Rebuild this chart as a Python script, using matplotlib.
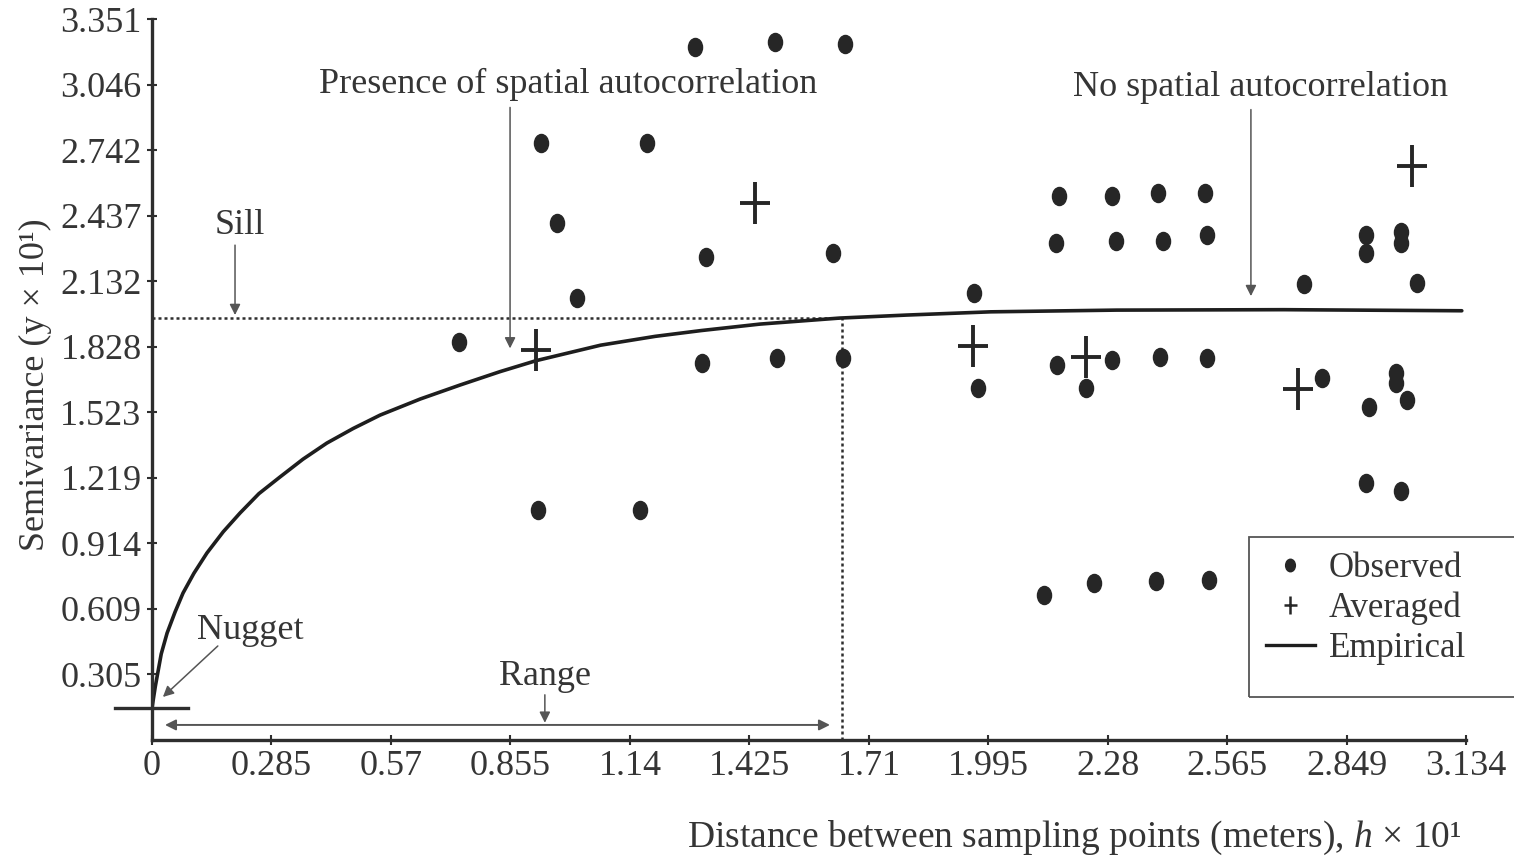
import numpy as np
import matplotlib
matplotlib.use("Agg")
import matplotlib.pyplot as plt
from matplotlib.path import Path
from matplotlib.transforms import Affine2D
from matplotlib.lines import Line2D
from matplotlib.patches import Rectangle

plt.rcParams['font.family'] = ['Liberation Serif', 'DejaVu Serif']
plt.rcParams['mathtext.fontset'] = 'custom'
plt.rcParams['mathtext.it'] = 'Liberation Serif:italic'
plt.rcParams['mathtext.rm'] = 'Liberation Serif'

INK = '#2e2e2e'
TXT = '#353535'
FS = 26

# tick values shown on the axes
x_ticks = [0, 0.285, 0.57, 0.855, 1.14, 1.425, 1.71, 1.995, 2.28, 2.565, 2.849, 3.134]
x_labels = ['0', '0.285', '0.57', '0.855', '1.14', '1.425', '1.71', '1.995', '2.28', '2.565', '2.849', '3.134']
y_ticks = [0.305, 0.609, 0.914, 1.219, 1.523, 1.828, 2.132, 2.437, 2.742, 3.046, 3.351]

# observed semivariance points
obs_x = [0.732, 0.928, 0.966, 1.014, 0.921, 1.180, 1.164, 1.295, 1.486, 1.653,
         1.321, 1.624, 1.312, 1.491, 1.648,
         1.960, 1.970,
         2.163, 2.290, 2.399, 2.511,
         2.156, 2.299, 2.411, 2.516,
         2.158, 2.228, 2.290, 2.404, 2.516,
         2.127, 2.247, 2.394, 2.521,
         2.747, 2.790, 2.895, 2.895, 2.979, 2.979, 3.017,
         2.967, 2.967, 2.902, 2.993, 2.895, 2.979]
obs_y = [1.849, 2.774, 2.402, 2.054, 1.069, 2.774, 1.069, 3.220, 3.243, 3.234,
         2.244, 2.263, 1.752, 1.775, 1.775,
         2.077, 1.636,
         2.528, 2.528, 2.542, 2.542,
         2.309, 2.319, 2.319, 2.347,
         1.743, 1.636, 1.766, 1.780, 1.775,
         0.674, 0.730, 0.739, 0.743,
         2.119, 1.682, 2.347, 2.263, 2.361, 2.309, 2.124,
         1.705, 1.659, 1.547, 1.580, 1.194, 1.157]

# averaged points
avg_x = [0.916, 1.438, 1.958, 2.228, 2.733, 3.005]
avg_y = [1.812, 2.495, 1.831, 1.780, 1.631, 2.667]

# empirical model curve
curve_x = [0.0, 0.004, 0.008, 0.012, 0.022, 0.036, 0.055, 0.074, 0.100, 0.131,
           0.170, 0.210, 0.255, 0.305, 0.360, 0.417, 0.480, 0.544, 0.640,
           0.735, 0.830, 0.916, 1.07, 1.20, 1.31, 1.45, 1.64, 1.80, 2.00,
           2.30, 2.70, 3.124]
curve_y = [0.149, 0.200, 0.250, 0.293, 0.400, 0.497, 0.595, 0.683, 0.775, 0.869,
           0.968, 1.055, 1.145, 1.222, 1.305, 1.380, 1.448, 1.510, 1.585,
           1.650, 1.712, 1.763, 1.835, 1.876, 1.903, 1.933, 1.961, 1.975, 1.990,
           1.998, 2.000, 1.995]

nugget = 0.149
sill = 1.961
range_x = 1.646

# ellipse dot and tall plus markers
dot = Path.unit_circle().transformed(Affine2D().scale(0.78, 1.0))
plus = Path([(-0.36, 0), (0.36, 0), (0, -0.5), (0, 0.5)],
            [Path.MOVETO, Path.LINETO, Path.MOVETO, Path.LINETO])

fig = plt.figure(figsize=(15.14, 8.59), dpi=100)
ax = fig.add_axes([152 / 1514, 1 - 740 / 859, (1466 - 152) / 1514, (740 - 19) / 859])
ax.set_xlim(0, 3.134)
ax.set_ylim(0, 3.351)

for s in ['top', 'right']:
    ax.spines[s].set_visible(False)
for s in ['left', 'bottom']:
    ax.spines[s].set_linewidth(2.4)
    ax.spines[s].set_color(INK)

ax.set_xticks(x_ticks)
ax.set_xticklabels(x_labels)
ax.set_yticks(y_ticks)
ax.set_yticklabels([f'{v:.3f}' for v in y_ticks])
ax.tick_params(direction='inout', length=7, width=1.5, color=INK,
               labelsize=FS, labelcolor=TXT)
ax.tick_params(axis='x', pad=4)
ax.tick_params(axis='y', pad=4)

# sill and range guides
ax.plot([0, range_x], [sill, sill], ls=(0, (1.2, 1.2)), color=INK, lw=1.8)
ax.plot([range_x, range_x], [0, sill], ls=(0, (1.2, 1.2)), color=INK, lw=1.8)
ax.plot([-0.088, 0.086], [nugget, nugget], color=INK, lw=2.4, clip_on=False)

ax.plot(curve_x, curve_y, color='#1e1e1e', lw=2.6, solid_capstyle='round',
        solid_joinstyle='round')
ax.plot(obs_x, obs_y, ls='none', marker=dot, ms=13, color='#262626')
ax.plot(avg_x, avg_y, ls='none', marker=plus, ms=30, mew=2.8,
        color='#262626', mfc='none')

arrow = dict(arrowstyle='-|>', color='#555555', lw=1.1, mutation_scale=16,
             shrinkA=0, shrinkB=0)
ax.annotate('', xy=(0.198, 1.975), xytext=(0.198, 2.30), arrowprops=arrow)
ax.text(0.21, 2.39, 'Sill', fontsize=FS, color=TXT, ha='center', va='center')

ax.annotate('', xy=(0.854, 1.82), xytext=(0.854, 2.94), arrowprops=arrow)
ax.text(0.992, 3.048, 'Presence of spatial autocorrelation', fontsize=FS,
        color=TXT, ha='center', va='center')

ax.annotate('', xy=(2.621, 2.063), xytext=(2.621, 2.93), arrowprops=arrow)
ax.text(2.645, 3.034, 'No spatial autocorrelation', fontsize=FS,
        color=TXT, ha='center', va='center')

ax.annotate('', xy=(0.026, 0.20), xytext=(0.157, 0.437), arrowprops=arrow)
ax.text(0.234, 0.511, 'Nugget', fontsize=FS, color=TXT, ha='center', va='center')

ax.annotate('', xy=(0.031, 0.07), xytext=(1.617, 0.07),
            arrowprops=dict(arrowstyle='<|-|>', color='#555555', lw=1.4,
                            mutation_scale=16, shrinkA=0, shrinkB=0))
ax.annotate('', xy=(0.937, 0.08), xytext=(0.937, 0.21), arrowprops=arrow)
ax.text(0.937, 0.297, 'Range', fontsize=FS, color=TXT, ha='center', va='center')

fig.text(1462 / 1514, 1 - 838 / 859,
         r'Distance between sampling points (meters), $h$ × 10¹',
         fontsize=27, color=TXT, ha='right', va='center')
fig.text(35 / 1514, 1 - 385 / 859, 'Semivariance (y × 10¹)', fontsize=FS,
         color=TXT, rotation=90, ha='center', va='center')

# legend: frame drawn separately because the box is padded unevenly
fig.patches.append(Rectangle((1249 / 1514, 1 - 697 / 859), 300 / 1514, 160 / 859,
                             transform=fig.transFigure, fill=False,
                             edgecolor='#555555', lw=1.3))
handles = [Line2D([], [], ls='none', marker=dot, ms=9, color='#262626'),
           Line2D([], [], ls='none', marker=plus, ms=13, mew=1.8,
                  color='#262626', mfc='none'),
           Line2D([], [], color='#1e1e1e', lw=2.4)]
leg = fig.legend(handles, ['Observed', 'Averaged', 'Empirical'],
                 loc='upper left', bbox_to_anchor=(1266 / 1514, 1 - 552 / 859),
                 fontsize=25, frameon=False, borderpad=0,
                 labelspacing=0.2, handlelength=1.4, handletextpad=0.4,
                 borderaxespad=0)
for t in leg.get_texts():
    t.set_color(TXT)

fig.savefig('out.png', dpi=100)
